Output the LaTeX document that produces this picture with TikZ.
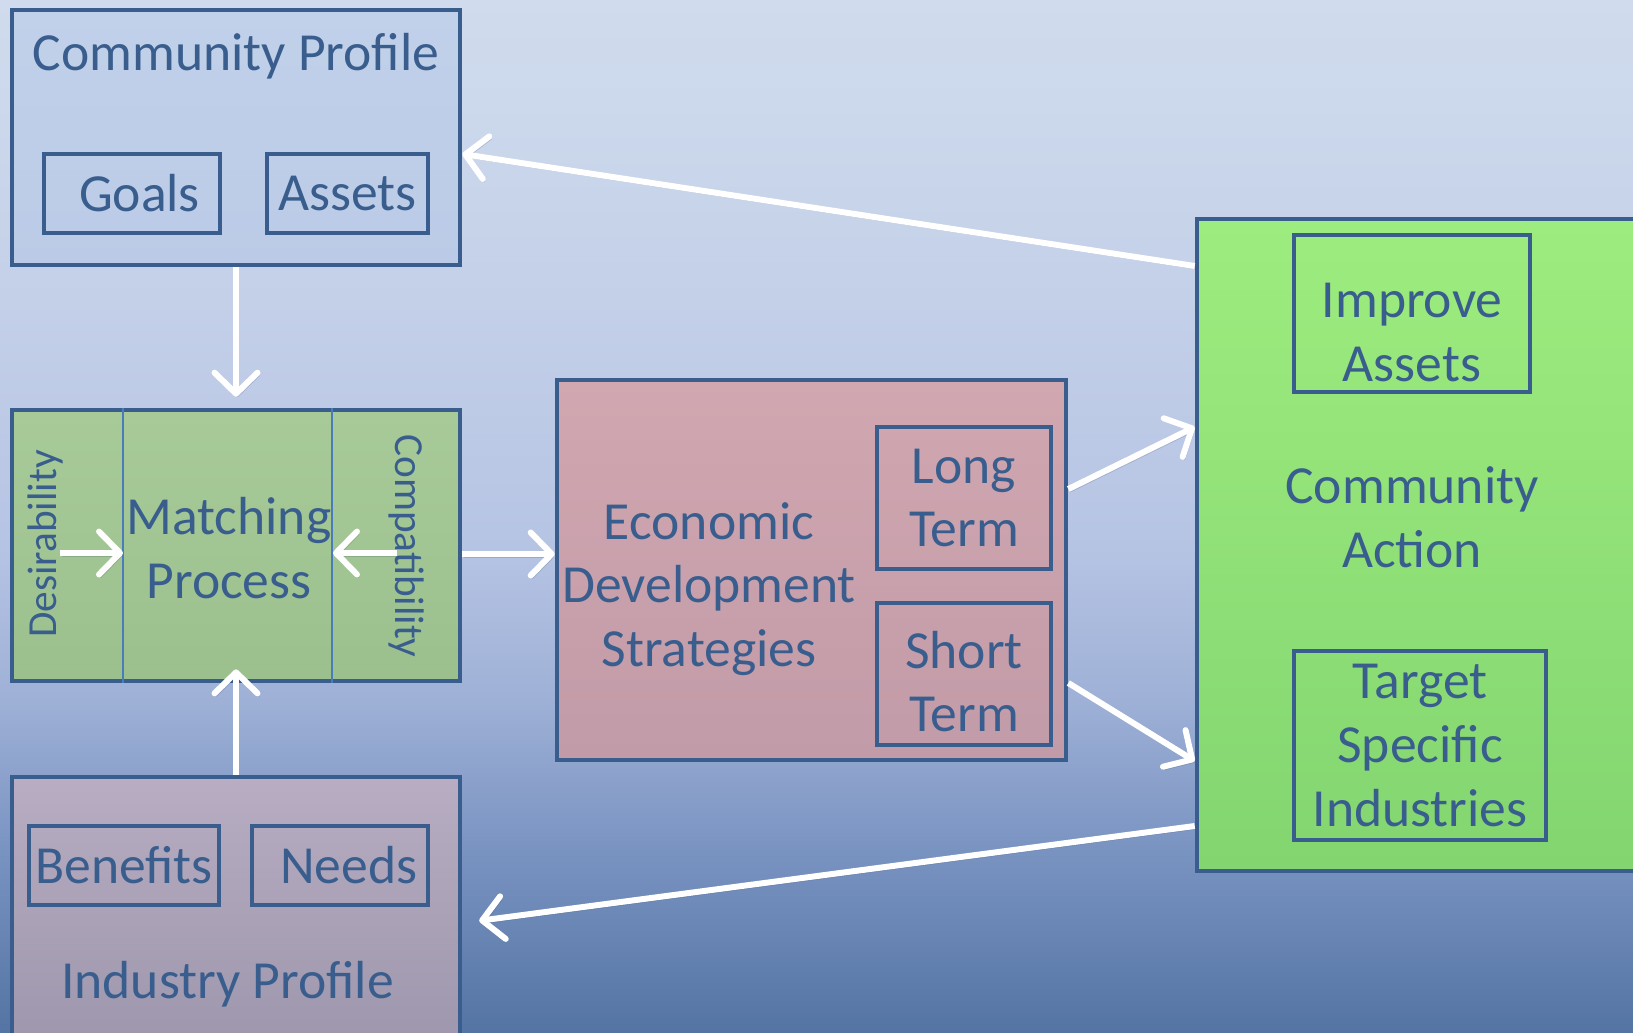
\documentclass[tikz,border=0pt]{standalone}
\usepackage{fontspec}
\setmainfont{Carlito}
\usetikzlibrary{arrows.meta,calc}
\definecolor{EdsNavy}{RGB}{57,94,142}
\definecolor{EdsRule}{RGB}{74,124,188}
\definecolor{EdsShade}{RGB}{40,55,85}
\definecolor{EdsBgA}{RGB}{84,116,163}
\definecolor{EdsBgB}{RGB}{122,148,194}
\definecolor{EdsBgC}{RGB}{158,176,214}
\definecolor{EdsBgD}{RGB}{182,196,228}
\definecolor{EdsBgE}{RGB}{196,208,232}
\definecolor{EdsBgF}{RGB}{208,220,237}
\definecolor{EdsCpTop}{RGB}{194,209,234}
\definecolor{EdsCpBot}{RGB}{187,202,230}
\definecolor{EdsMpTop}{RGB}{167,202,152}
\definecolor{EdsMpBot}{RGB}{155,192,142}
\definecolor{EdsEdTop}{RGB}{209,167,176}
\definecolor{EdsEdBot}{RGB}{193,155,168}
\definecolor{EdsIpTop}{RGB}{184,173,194}
\definecolor{EdsIpBot}{RGB}{157,150,172}
\definecolor{EdsCaTop}{RGB}{157,236,127}
\definecolor{EdsCaBot}{RGB}{131,213,112}
% pgf fits the middle half (25bp--75bp) of a shading to the path
\pgfdeclareverticalshading{edsbackdrop}{100bp}{color(0bp)=(EdsBgA); color(25bp)=(EdsBgA); color(34bp)=(EdsBgB); color(41bp)=(EdsBgC); color(48.5bp)=(EdsBgD); color(60.5bp)=(EdsBgE); color(75bp)=(EdsBgF); color(100bp)=(EdsBgF)}
\newcommand{\edsfont}{\fontsize{30.5}{36.3}\selectfont}
\newcommand{\edssidefont}{\fontsize{23.5}{28}\selectfont}
\tikzset{
  eds/panel/.style={
    draw=EdsNavy,
    line width=2.7pt,
    inner sep=0pt
  },
  eds/tag/.style={
    draw=EdsNavy,
    line width=2.4pt,
    inner sep=0pt,
    align=center,
    text=EdsNavy,
    font=\edsfont
  },
  eds/label/.style={text=EdsNavy, font=\edsfont, inner sep=0pt, align=center},
  eds/side/.style={text=EdsNavy, font=\edssidefont, inner sep=0pt},
  eds/divider/.style={draw=EdsRule, line width=0.9pt},
  eds/arrow/.style={
    draw=white,
    line width=3.4pt,
    -{Straight Barb[length=4.2mm,width=8.6mm,round]},
    preaction={draw=EdsShade, draw opacity=0.18, transform canvas={shift={(0.04cm,-0.06cm)}}}
  }
}

\begin{document}
\begin{tikzpicture}[x=0.02cm,y=-0.02cm]
  \useasboundingbox (0,0) rectangle (1633,1032);
  \fill[shading=edsbackdrop] (0,0) rectangle (1633,1032);

  % community profile
  \node[eds/panel,top color=EdsCpTop,bottom color=EdsCpBot,minimum width=8.96cm,minimum height=5.10cm] (cprof) at (236,137.5) {};
  \node[eds/label,anchor=base] (cproftitle) at (236,70) {Community Profile};
  \node[eds/tag,minimum width=3.52cm,minimum height=1.58cm] (goals) at (132,193.5) {\hspace{0.3cm}Goals};
  \node[eds/tag,minimum width=3.22cm,minimum height=1.58cm] (assets) at (347.5,193.5) {Assets};

  % matching process
  \node[eds/panel,top color=EdsMpTop,bottom color=EdsMpBot,minimum width=8.96cm,minimum height=5.42cm] (match) at (236,545.5) {};
  \draw[eds/divider] (match.north -| 123,0) -- (match.south -| 123,0);
  \draw[eds/divider] (match.north -| 332,0) -- (match.south -| 332,0);
  \node[eds/label] (matchtitle) at (229,548) {Matching\\Process};
  \node[eds/side,rotate=90] (desir) at (45,544) {Desirability};
  \node[eds/side,rotate=-90] (compat) at (407,546) {Compatibility};
  \coordinate (desirtail) at (60,553);
  \coordinate (desirhead) at (123,553);
  \coordinate (compattail) at (397,553);
  \coordinate (compathead) at (333,553);

  % industry profile
  \node[eds/panel,top color=EdsIpTop,bottom color=EdsIpBot,minimum width=8.96cm,minimum height=5.46cm] (iprof) at (236,913.5) {};
  \node[eds/label,anchor=base] (iproftitle) at (227.5,998) {Industry Profile};
  \node[eds/tag,minimum width=3.80cm,minimum height=1.58cm] (benefits) at (124,865.5) {Benefits};
  \node[eds/tag,minimum width=3.52cm,minimum height=1.58cm] (needs) at (340,865.5) {\hspace{0.35cm}Needs};

  % economic development strategies
  \node[eds/panel,top color=EdsEdTop,bottom color=EdsEdBot,minimum width=10.18cm,minimum height=7.60cm] (econ) at (811.5,570) {};
  \node[eds/label] (econtitle) at (709,589) {Economic\\Development\\Strategies};
  \node[eds/tag,minimum width=3.48cm,minimum height=2.84cm] (longterm) at (964,498) {Long\\Term};
  \node[eds/tag,minimum width=3.48cm,minimum height=2.84cm] (shortterm) at (964,674) {\rule{0pt}{1.05cm}Short\\Term};

  % community action
  \node[eds/panel,top color=EdsCaTop,bottom color=EdsCaBot,minimum width=9.02cm,minimum height=13.04cm] (cact) at (1422.5,545) {};
  \node[eds/label] (cacttitle) at (1412,517.5) {Community\\Action};
  \node[eds/tag,minimum width=4.72cm,minimum height=3.14cm] (improve) at (1412,313.5) {\rule{0pt}{1.45cm}Improve\\Assets};
  \node[eds/tag,minimum width=5.04cm,minimum height=3.78cm] (target) at (1420,745.5) {Target\\Specific\\Industries};

  % flows
  \draw[eds/arrow] (cact.west |- 0,266) -- (cprof.east |- 0,154);
  \draw[eds/arrow,shorten >=0.22cm] (cprof.south) -- (match.north);
  \draw[eds/arrow,shorten >=-0.28cm] (iprof.north) -- (match.south);
  \draw[eds/arrow] (desirtail) -- (desirhead);
  \draw[eds/arrow] (compattail) -- (compathead);
  \draw[eds/arrow] (match.east |- 0,554) -- (econ.west |- 0,554);
  \draw[eds/arrow] (econ.east |- 0,489) -- (cact.west |- 0,427);
  \draw[eds/arrow] (econ.east |- 0,683) -- (cact.west |- 0,761);
  \draw[eds/arrow,shorten >=0.34cm] (cact.west |- 0,826) -- (iprof.east |- 0,923);
\end{tikzpicture}
\end{document}
